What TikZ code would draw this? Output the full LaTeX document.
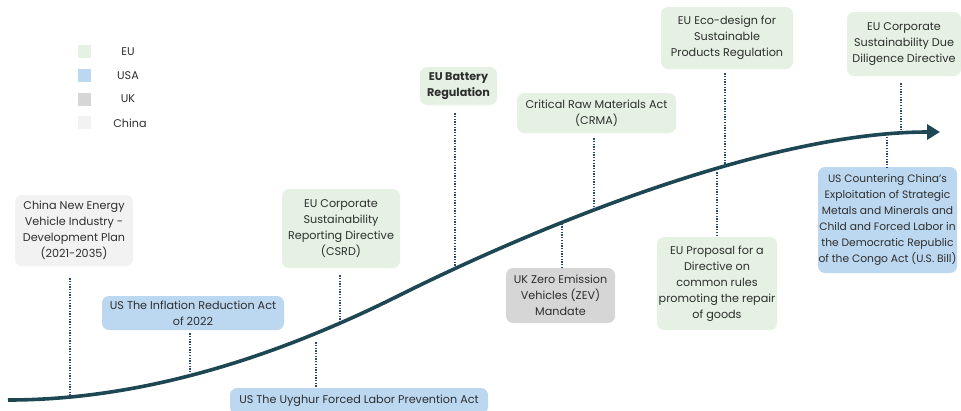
\documentclass[tikz,border=0pt]{standalone}
\usepackage{fontspec}
\setmainfont{Poppins}
\usetikzlibrary{arrows.meta,intersections}
\definecolor{eucol}{HTML}{E4F1E3}
\definecolor{uscol}{HTML}{BCD8F1}
\definecolor{ukcol}{HTML}{D6D6D6}
\definecolor{cncol}{HTML}{F2F2F2}
\definecolor{txtcol}{HTML}{2E2E2E}
\definecolor{curvecol}{HTML}{1D4752}
\definecolor{dotcol}{HTML}{2B4878}
\tikzset{
  box/.style={rounded corners=7pt, align=center, inner sep=1pt, text=txtcol,
     font=\fontsize{11.2}{16}\selectfont},
  eubox/.style={box, fill=eucol},
  usbox/.style={box, fill=uscol},
  ukbox/.style={box, fill=ukcol},
  cnbox/.style={box, fill=cncol},
  conn/.style={draw=dotcol, line width=2.4pt, dash pattern=on 1.3pt off 1.4pt},
  legsq/.style={minimum size=13pt, inner sep=0pt},
  leglab/.style={text=txtcol, font=\fontsize{11.2}{12}\selectfont, inner sep=0pt}
}
\begin{document}
\begin{tikzpicture}[x=1pt,y=-1pt]
\useasboundingbox (0,0) rectangle (961,410);
\clip (0,0) rectangle (961,410);
% legend
\node[legsq, fill=eucol] (l1) at (84.5,51) {};
\node[legsq, fill=uscol] (l2) at (84.5,75) {};
\node[legsq, fill=ukcol] (l3) at (84.5,99) {};
\node[legsq, fill=cncol] (l4) at (84.5,122) {};
\node[leglab] (t1) at (128,52) {EU};
\node[leglab] (t2) at (128,76) {USA};
\node[leglab] (t3) at (128,99) {UK};
\node[leglab] (t4) at (130,123) {China};
% curve
\path[name path=curve] (8,400) .. controls (160,400) and (300,345) .. (400,295)
   .. controls (520,235) and (760,132) .. (945,132);
\draw[curvecol, line width=3.6pt, -{Triangle[length=13pt,width=15pt]}]
   (8,400) .. controls (160,400) and (300,345) .. (400,295)
   .. controls (520,235) and (760,132) .. (940,132);
\foreach \n/\x in {p1/70,p2/190,p3/316,p4/340,p5/455,p6/594,p7/562,p8/725,p9/717,p10/901,p11/887}{
  \path[name path=v] (\x,0) -- (\x,420);
  \path[name intersections={of=curve and v, by=\n}];
}
% boxes
\node[cnbox, minimum width=118pt, minimum height=71pt] (china) at (74,230.5)
  {China New Energy\\Vehicle Industry -\\Development Plan\\(2021-2035)};
\node[usbox, minimum width=182pt, minimum height=34pt] (ira) at (193,313)
  {US The Inflation Reduction Act\\of 2022};
\node[usbox, minimum width=258pt, minimum height=26pt] (uyghur) at (359,401)
  {US The Uyghur Forced Labor Prevention Act};
\node[eubox, minimum width=118pt, minimum height=79pt] (csrd) at (341,228.5)
  {EU Corporate\\Sustainability\\Reporting Directive\\(CSRD)};
\node[eubox, minimum width=77pt, minimum height=38pt, font=\fontsize{11.2}{16}\selectfont\bfseries] (battery) at (458.5,86)
  {EU Battery\\Regulation};
\node[eubox, minimum width=159pt, minimum height=40pt] (crma) at (596.5,113)
  {Critical Raw Materials Act\\(CRMA)};
\node[ukbox, minimum width=109pt, minimum height=55pt] (zev) at (560.5,295.5)
  {UK Zero Emission\\Vehicles (ZEV)\\Mandate};
\node[eubox, minimum width=132pt, minimum height=62pt] (eco) at (727,38)
  {EU Eco-design for\\Sustainable\\Products Regulation};
\node[eubox, minimum width=120pt, minimum height=93pt] (repair) at (717,283.5)
  {EU Proposal for a\\Directive on\\common rules\\promoting the repair\\of goods};
\node[eubox, minimum width=114pt, minimum height=64pt] (csddd) at (904,44)
  {EU Corporate\\Sustainability Due\\Diligence Directive};
\node[usbox, minimum width=139pt, minimum height=106pt, inner sep=0pt,
      font=\fontsize{10.7}{16}\selectfont] (congo) at (887.5,220)
  {US Countering China's\\Exploitation of Strategic\\Metals and Minerals and\\Child and Forced Labor in\\the Democratic Republic\\of the Congo Act (U.S. Bill)};
% connectors above the curve
\draw[conn] (china.south -| p1) ++(0,12) -- (p1);
\draw[conn] (ira.south -| p2) ++(0,3) -- (p2);
\draw[conn] (csrd.south -| p4) ++(0,7) -- (p4);
\draw[conn] (battery.south -| p5) ++(0,8) -- (p5);
\draw[conn] (crma.south -| p6) ++(0,5) -- (p6);
\draw[conn] (eco.south -| p8) ++(0,4) -- (p8);
\draw[conn] (csddd.south -| p10) ++(0,7) -- (p10);
% connectors below the curve
\draw[conn] (p3) ++(0,9) -- (uyghur.north -| p3);
\draw[conn] (p7) ++(0,1) -- (zev.north -| p7);
\draw[conn] (p9) ++(0,3) -- (repair.north -| p9);
\draw[conn] (p11) ++(0,2) -- (congo.north -| p11);
\end{tikzpicture}
\end{document}
